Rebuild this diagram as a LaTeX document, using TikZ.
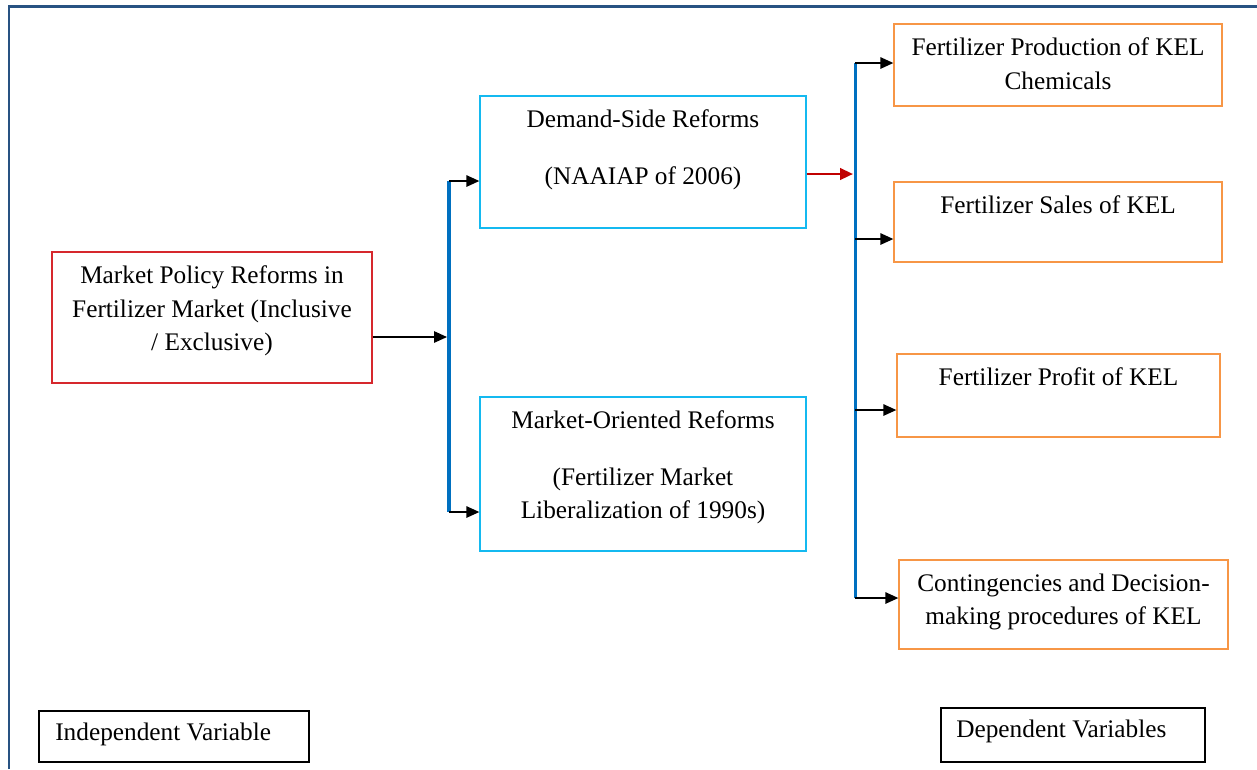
\documentclass[tikz,border=0pt]{standalone}
\usepackage{fontspec}
\setmainfont{Liberation Serif}
\usetikzlibrary{positioning}
\usetikzlibrary{arrows.meta}

\definecolor{framecol}{RGB}{40,82,130}
\definecolor{redcol}{RGB}{214,40,45}
\definecolor{cyancol}{RGB}{20,185,240}
\definecolor{buscol}{RGB}{0,112,192}
\definecolor{orangecol}{RGB}{247,150,70}
\definecolor{arrred}{RGB}{192,0,0}

\tikzset{
	box/.style={draw, inner sep=0pt, line width=0.8pt},
	redbox/.style={box, draw=redcol},
	cyanbox/.style={box, draw=cyancol},
	orangebox/.style={box, draw=orangecol},
	keybox/.style={box, draw=black, line width=1.2pt},
	boxtext/.style={inner sep=0pt, align=center, font=\fontsize{14.4}{19.2}\selectfont},
	arr/.style={line width=0.8pt, -{Triangle[length=0.26cm,width=0.23cm]}},
	redarr/.style={arrred, line width=1.5pt, -{Triangle[length=0.26cm,width=0.23cm]}},
	bus/.style={draw=buscol, line width=#1},
}

\begin{document}
\begin{tikzpicture}[x=0.02cm, y=-0.02cm]
	\useasboundingbox (0,0) rectangle (1257,769);
	\draw[framecol, line width=1.7pt] (9,769) -- (9,6) -- (1257,6);

	% boxes
	\node[redbox, minimum width=6.4cm, minimum height=2.62cm] (policy) at (212,317.5) {};
	\node[cyanbox, minimum width=6.52cm, minimum height=2.64cm] (demand) at (643,162) {};
	\node[cyanbox, minimum width=6.52cm, minimum height=3.08cm] (market) at (643,474) {};
	\node[orangebox, minimum width=6.56cm, minimum height=1.64cm] (prod) at (1058,65) {};
	\node[orangebox, minimum width=6.56cm, minimum height=1.6cm] (sales) at (1058,222) {};
	\node[orangebox, minimum width=6.46cm, minimum height=1.66cm] (profit) at (1058.5,395.5) {};
	\node[orangebox, minimum width=6.58cm, minimum height=1.78cm] (conting) at (1063.5,604.5) {};
	\node[keybox, minimum width=5.4cm, minimum height=1.02cm] (indep) at (174,736.5) {};
	\node[keybox, minimum width=5.28cm, minimum height=1.08cm] (dep) at (1073,735) {};

	% texts
	\node[boxtext, below=0.28cm of policy.north] (policy-t) {Market Policy Reforms in\\Fertilizer Market (Inclusive\\/ Exclusive)};
	\node[boxtext, below=0.28cm of demand.north] (demand-t) {Demand-Side Reforms\\[13pt](NAAIAP of 2006)};
	\node[boxtext, below=0.28cm of market.north] (market-t) {Market-Oriented Reforms\\[13pt](Fertilizer Market\\Liberalization of 1990s)};
	\node[boxtext, below=0.28cm of prod.north] (prod-t) {Fertilizer Production of KEL\\Chemicals};
	\node[boxtext, below=0.28cm of sales.north] (sales-t) {Fertilizer Sales of KEL};
	\node[boxtext, below=0.28cm of profit.north] (profit-t) {Fertilizer Profit of KEL};
	\node[boxtext, below=0.28cm of conting.north] (conting-t) {Contingencies and Decision-\\making procedures of KEL};
	\node[boxtext, anchor=north west, below right=0.26cm and 0.34cm of indep.north west] (indep-t) {Independent Variable};
	\node[boxtext, anchor=north west, below right=0.26cm and 0.32cm of dep.north west] (dep-t) {Dependent Variables};

	% connectors
	\coordinate (lt) at (449,181);
	\coordinate (lb) at (449,512);
	\coordinate (lmid) at (447,337);
	\coordinate (rin) at (853,174);
	\coordinate (r1) at (855,63);
	\coordinate (r2) at (855,239);
	\coordinate (r3) at (855,410);
	\coordinate (r4) at (855,598);
	\draw[bus=2.8pt] (lt) -- (lb);
	\draw[bus=1.7pt] (r1) -- (r4);
	\draw[arr] (policy.east |- lmid) -- (lmid);
	\draw[arr] (lt) -- (lt -| demand.west);
	\draw[arr] (lb) -- (lb -| market.west);
	\draw[redarr] (demand.east |- rin) -- (rin);
	\draw[arr] (r1) -- (r1 -| prod.west);
	\draw[arr] (r2) -- (r2 -| sales.west);
	\draw[arr] (r3) -- (r3 -| profit.west);
	\draw[arr] (r4) -- (r4 -| conting.west);
\end{tikzpicture}
\end{document}
